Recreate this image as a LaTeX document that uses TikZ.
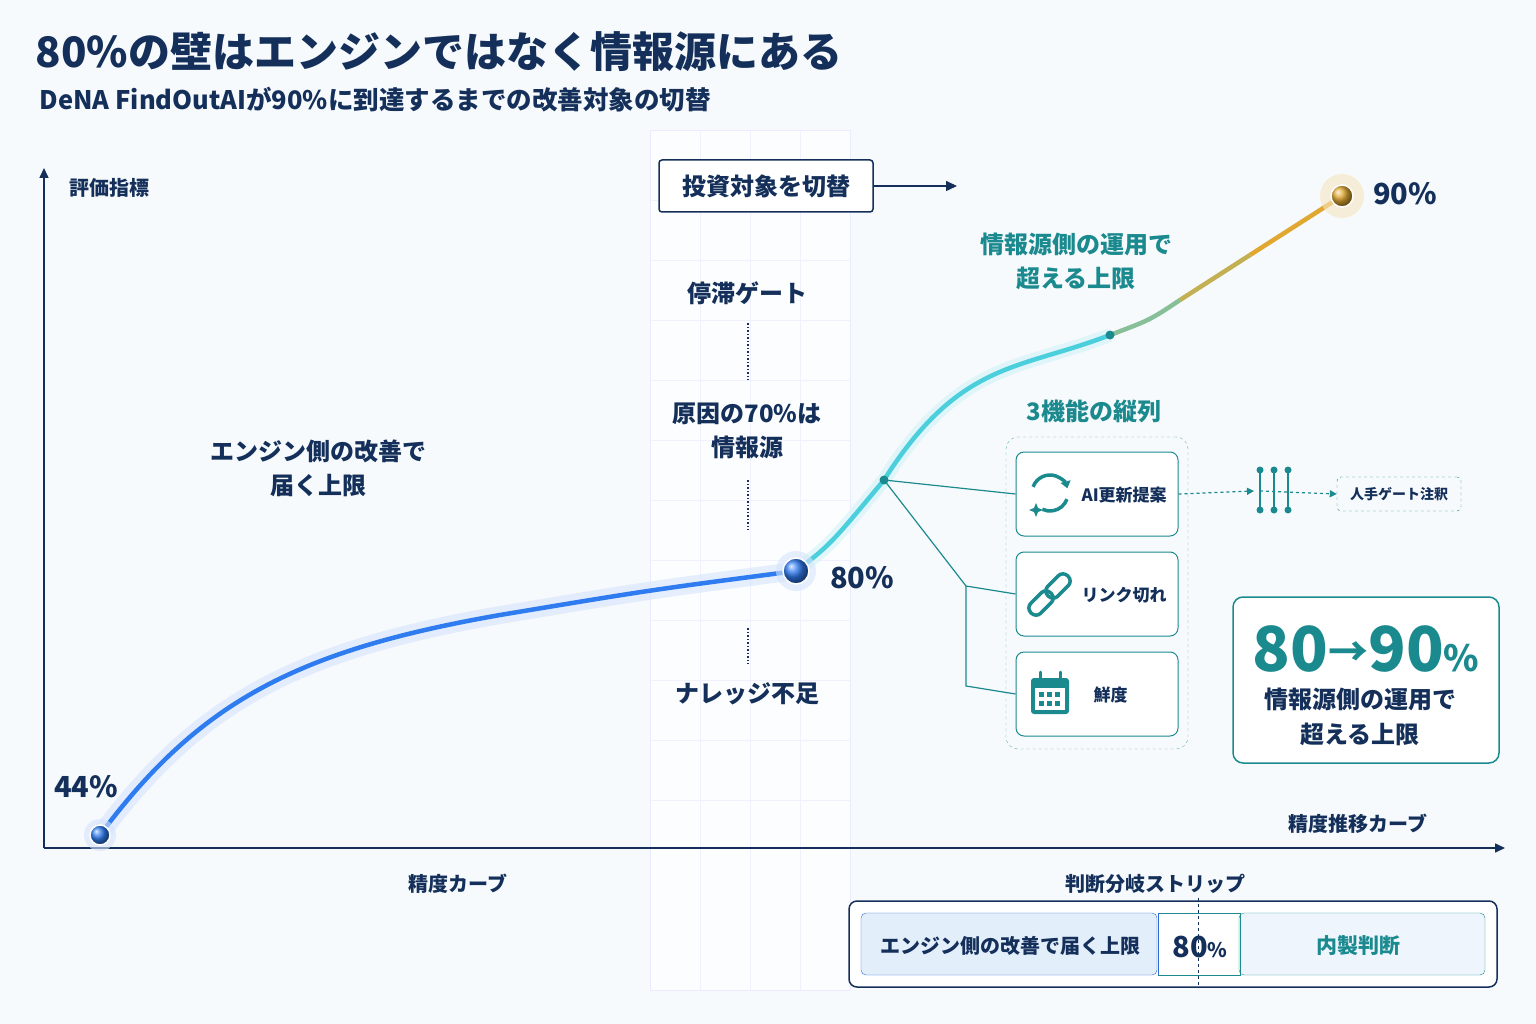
\documentclass[tikz,border=0pt]{standalone}
\usepackage{fontspec}
\setmainfont{Noto Sans CJK JP}
\usetikzlibrary{arrows.meta,calc}
\definecolor{navy}{HTML}{14305A}
\definecolor{blu}{HTML}{2F7BF0}
\definecolor{teal}{HTML}{1A8A8F}
\definecolor{cyan2}{HTML}{4CCFDD}
\definecolor{gold}{HTML}{E0A830}
\definecolor{bg}{HTML}{F7FAFD}
\definecolor{lb}{HTML}{E3EEFB}
\definecolor{lb2}{HTML}{EEF5FC}
\tikzset{
 lbl/.style={text=navy,font=\bfseries\fontsize{24}{34}\selectfont,align=center},
 tlbl/.style={text=teal,font=\bfseries\fontsize{24}{34}\selectfont,align=center},
 fbox/.style={draw=teal,line width=1pt,rounded corners=8pt,minimum width=162pt,minimum height=84pt,fill=white},
 tl/.style={teal,line width=1.2pt},
}
\begin{document}
\begin{tikzpicture}[x=1pt,y=-1pt]
\useasboundingbox[fill=bg] (0,0) rectangle (1536,1024);
% title
\node[anchor=west,text=navy,font=\bfseries\fontsize{42}{48}\selectfont] (title) at (32,52) {80\%の壁はエンジンではなく情報源にある};
\node[anchor=west,text=navy,font=\bfseries\fontsize{25.5}{30}\selectfont] (sub) at (36,100) {DeNA FindOutAIが90\%に到達するまでの改善対象の切替};
% gate strip
\fill[white,opacity=0.7] (650,130) rectangle (850,990);
\draw[blue!8] (650,130) rectangle (850,990);
\foreach \yy in {200,260,320,380,440,500,560,620,680,740,800}{\draw[blue!6] (650,\yy)--(850,\yy);}
\draw[blue!6] (700,130)--(700,990) (750,130)--(750,990) (800,130)--(800,990);
% axes
\coordinate (o) at (44,848);
\coordinate (ytop) at (44,168);
\coordinate (xend) at (1505,848);
\draw[navy,line width=1.5pt,-{Triangle[length=10pt,width=9pt]}] (o)--(ytop);
\draw[navy,line width=1.5pt,-{Triangle[length=10pt,width=9pt]}] (o)--(xend);
\node[lbl,anchor=west,font=\bfseries\fontsize{20}{24}\selectfont] (ylab) at (66,188) {評価指標};
\node[lbl,font=\bfseries\fontsize{20}{24}\selectfont] (xlab) at (1358,824) {精度推移カーブ};
\node[lbl,font=\bfseries\fontsize{20}{24}\selectfont] (clab) at (458,884) {精度カーブ};
% curve
\coordinate (p44) at (100,835);
\coordinate (p80) at (796,571);
\coordinate (pm) at (884,480);
\coordinate (pt) at (1110,335);
\coordinate (p90) at (1342,196);
\def\bluecurve{(p44) .. controls (200,700) and (300,650) .. (500,615) .. controls (650,590) .. (p80)}
\draw[blu!20,line width=18pt,opacity=0.6,line cap=round] \bluecurve;
\draw[blu,line width=4.5pt,line cap=round] \bluecurve;
\draw[cyan2!25,line width=14pt,opacity=0.6] (p80) .. controls (830,545) .. (pm) .. controls (960,360) and (1020,370) .. (pt);
\draw[cyan2,line width=4.5pt] (p80) .. controls (830,545) .. (pm) .. controls (960,360) and (1020,370) .. (pt);
\draw[cyan2!60!gold,line width=4.5pt] (pt) .. controls (1150,320) .. (1180,300);
\draw[gold!80!cyan2,line width=4.5pt] (1180,300) -- (1250,255);
\draw[gold,line width=4.5pt] (1250,255) -- (p90);
\fill[blu!20,opacity=0.6] (p44) circle (16);
\shade[ball color=blu] (p44) circle (10);
\draw[white,line width=1.5pt] (p44) circle (10);
\fill[blu!20,opacity=0.6] (p80) circle (20);
\shade[ball color=blu] (p80) circle (13);
\draw[white,line width=1.5pt] (p80) circle (13);
\fill[gold!30,opacity=0.6] (p90) circle (22);
\shade[ball color=gold] (p90) circle (11);
\draw[white,line width=1.5pt] (p90) circle (11);
\fill[teal] (pm) circle (4.5) (pt) circle (4.5);
\node[lbl,font=\bfseries\fontsize{29}{32}\selectfont] (l44) at (86,787) {44\%};
\node[lbl,font=\bfseries\fontsize{29}{32}\selectfont] (l80) at (862,578) {80\%};
\node[lbl,font=\bfseries\fontsize{29}{32}\selectfont] (l90) at (1405,194) {90\%};
\node[lbl] (eng) at (318,468) {エンジン側の改善で\\届く上限};
\node[tlbl] (src) at (1076,261) {情報源側の運用で\\超える上限};
% gate column
\node[lbl,draw=navy,line width=1.5pt,rounded corners=3pt,fill=white,minimum width=214pt,minimum height=52pt] (sw) at (766,186) {投資対象を切替};
\coordinate (swend) at (957,186);
\draw[navy,line width=1.5pt,-{Triangle[length=11pt,width=10pt]}] (sw.east)--(swend);
\node[lbl] (stag) at (747,293) {停滞ゲート};
\node[lbl] (cause) at (747,431) {原因の70\%は\\情報源};
\node[lbl] (know) at (747,694) {ナレッジ不足};
\draw[navy,dotted,line width=1.5pt] (748,323)--(748,380) (748,480)--(748,530) (748,628)--(748,664);
% functions
\node[tlbl] (f3) at (1094,411) {3機能の縦列};
\node[draw=teal!70,dashed,rounded corners=12pt,minimum width=182pt,minimum height=312pt] (grp) at (1097,593) {};
\node[fbox] (fa) at (1097,494) {};
\node[fbox] (fb) at (1097,594) {};
\node[fbox] (fc) at (1097,694) {};
\node[anchor=west,text=navy,font=\bfseries\fontsize{17}{20}\selectfont] (ta) at (1078,495) {AI更新提案};
\node[anchor=west,text=navy,font=\bfseries\fontsize{17}{20}\selectfont] (tb) at (1078,595) {リンク切れ};
\node[anchor=west,text=navy,font=\bfseries\fontsize{17}{20}\selectfont] (tc) at (1090,695) {鮮度};
% icons
\coordinate (ic) at (1050,493);
\draw[teal,line width=3.5pt,-{Triangle[length=7pt,width=10pt]}] (ic) ++(-160:18) arc[start angle=-160,end angle=-15,radius=18];
\draw[teal,line width=3.5pt] (ic) ++(20:18) arc[start angle=20,end angle=115,radius=18];
\fill[teal] (1036,503) -- ++(2,5) -- ++(5,2) -- ++(-5,2) -- ++(-2,5) -- ++(-2,-5) -- ++(-5,-2) -- ++(5,-2) -- cycle;
\draw[teal,line width=3.5pt,rounded corners=6.5pt,rotate around={45:(1041,603)}] (1027,596) rectangle (1055,610);
\draw[teal,line width=3.5pt,rounded corners=6.5pt,rotate around={45:(1058,586)}] (1044,579) rectangle (1072,593);
\fill[teal,rounded corners=3pt] (1031,678) rectangle (1069,714);
\fill[white] (1035,688) rectangle (1065,710);
\foreach \cx in {1039,1047,1055}{\fill[teal] (\cx,692) rectangle ++(5,5); \fill[teal] (\cx,701) rectangle ++(5,5);}
\draw[teal,line width=3pt,line cap=round] (1040,672)--(1040,682) (1060,672)--(1060,682);
% connectors from curve
\coordinate (br) at (966,586);
\coordinate (bb) at (966,686);
\draw[tl] (pm) -- (fa.west);
\draw[tl] (pm) -- (br) -- (fb.west);
\draw[tl] (br) -- (bb) -- (fc.west);
% gate
\draw[teal,line width=1.2pt,dashed,-{Triangle[length=7pt,width=7pt]}] (fa.east) -- (1254,491);
\foreach \gx in {1260,1274,1288}{\draw[teal,line width=2pt] (\gx,470)--(\gx,510); \fill[teal] (\gx,470) circle (3.5) (\gx,510) circle (3.5);}
\node[draw=teal,dashed,rounded corners=4pt,text=navy,font=\bfseries\fontsize{14}{18}\selectfont,minimum width=124pt,minimum height=34pt] (hum) at (1399,494) {人手ゲート注釈};
\draw[teal,line width=1.2pt,dashed,-{Triangle[length=7pt,width=7pt]}] (1260,491) -- (hum.west);
% big box
\node[draw=teal,line width=1.5pt,rounded corners=10pt,fill=white,minimum width=266pt,minimum height=166pt] (big) at (1366,680) {};
\node[text=teal,font=\bfseries\fontsize{62}{64}\selectfont] (bign) at (1366,649) {80\raisebox{0.15ex}{\fontsize{40}{40}\selectfont→}90\fontsize{36}{36}\selectfont\%};
\node[lbl,font=\bfseries\fontsize{24}{35}\selectfont] (bigt) at (1360,717) {情報源側の運用で\\超える上限};
% strip
\node[lbl,font=\bfseries\fontsize{20}{24}\selectfont] (stl) at (1155,884) {判断分岐ストリップ};
\node[draw=navy,line width=1.5pt,rounded corners=8pt,fill=white,minimum width=648pt,minimum height=86pt] (strip) at (1173,944) {};
\node[draw=blu!80!navy,fill=lb,rounded corners=5pt,minimum width=296pt,minimum height=62pt] (sa) at (1009,944) {};
\node[text=navy,font=\bfseries\fontsize{20}{24}\selectfont] at (1010,946) {エンジン側の改善で届く上限};
\node[draw=teal,fill=lb2,rounded corners=5pt,minimum width=246pt,minimum height=62pt] (sc) at (1362,944) {};
\node[text=teal,font=\bfseries\fontsize{21}{24}\selectfont] at (1358,946) {内製判断};
\draw[teal] (1158,913) rectangle (1240,975);
\draw[blu!80!navy] (1158,913) -- (1158,975);
\node[text=navy,font=\bfseries\fontsize{29}{32}\selectfont] (s80) at (1200,947) {80\fontsize{20}{20}\selectfont\%};
\draw[navy,dashed,line width=1pt] (1198,898)--(1198,988);
\end{tikzpicture}
\end{document}
